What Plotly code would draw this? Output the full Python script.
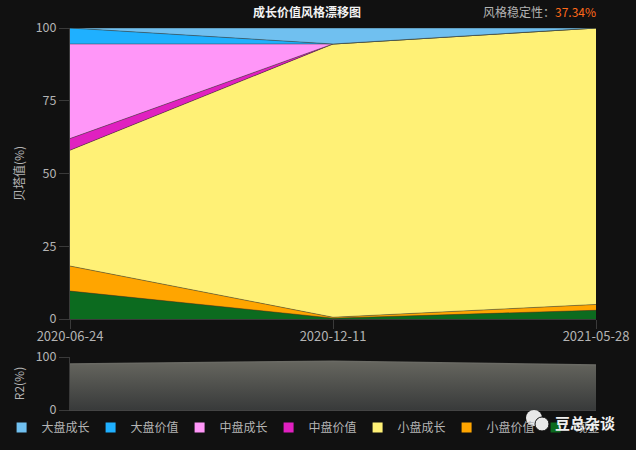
import plotly.graph_objects as go

dates = ["2020-06-24", "2020-12-11", "2021-05-28"]
large_growth = [0, 5.5, 0]
large_value = [5.5, 0, 0]
mid_growth = [32.5, 0, 0]
mid_value = [4, 0, 0]
small_growth = [39.8, 93.9, 95]
small_value = [8.6, 0.3, 2]
cash = [9.6, 0.3, 3]
r2 = [87, 92, 85]

series = [
    ("现金", cash, "#0c6b1f"),
    ("小盘价值", small_value, "#ffa500"),
    ("小盘成长", small_growth, "#fff176"),
    ("中盘价值", mid_value, "#e020c0"),
    ("中盘成长", mid_growth, "#ff96f8"),
    ("大盘价值", large_value, "#1fb0ff"),
    ("大盘成长", large_growth, "#70c0f0"),
]

FONT = "Noto Sans CJK SC, Noto Sans, sans-serif"
TEXT = "#b4b4b4"
BG = "#111111"
W, H = 636, 450

fig = go.Figure()
for name, vals, color in series:
    fig.add_trace(go.Scatter(
        x=dates, y=vals, name=name, stackgroup="one", mode="lines",
        line=dict(color="rgba(50,50,40,0.65)", width=0.7),
        fillcolor=color, showlegend=False, hoverinfo="x+y+name",
    ))
for name, vals, color in reversed(series):
    fig.add_trace(go.Scatter(
        x=dates[:1], y=[None], name=name, mode="markers",
        marker=dict(symbol="square", size=10, color=color), showlegend=True,
    ))
fig.add_trace(go.Scatter(
    x=dates, y=r2, xaxis="x2", yaxis="y2", mode="lines", name="R2",
    line=dict(color="#6a6a64", width=1.5), fill="tozeroy",
    fillgradient=dict(type="vertical",
                      colorscale=[[0, "#383a3a"], [1, "#66665f"]]),
    showlegend=False,
))

x_domain = [70 / W, 596 / W]
y_axis_common = dict(showline=True, linecolor="#3a3a3a", linewidth=1, ticks="outside",
                     ticklen=10, tickcolor="#3a3a3a", tickfont=dict(color=TEXT, size=12.5))
fig.update_layout(
    width=W, height=H, autosize=False,
    paper_bgcolor=BG, plot_bgcolor=BG,
    font=dict(family=FONT, color=TEXT, size=12),
    margin=dict(l=0, r=0, t=0, b=0, pad=0),
    xaxis=dict(domain=x_domain, anchor="y", type="category", range=[0, 2],
               showgrid=False, zeroline=False, automargin=False,
               showline=True, linecolor="#3a3a3a", linewidth=1, ticks="outside",
               ticklen=9, tickcolor="#3a3a3a", ticklabelstandoff=-4,
               tickfont=dict(color=TEXT, size=13)),
    yaxis=dict(domain=[(H - 319) / H, (H - 28) / H], anchor="x", range=[0, 100],
               tickvals=[0, 25, 50, 75, 100],
               showgrid=False, zeroline=False, automargin=False,
               title=dict(text="贝塔值(%)", font=dict(size=12, color=TEXT), standoff=8),
               **y_axis_common),
    xaxis2=dict(domain=x_domain, anchor="y2", type="category", range=[0, 2],
                showticklabels=False, ticks="", showgrid=False, zeroline=False,
                showline=True, linecolor="#444444", linewidth=1),
    yaxis2=dict(domain=[(H - 410) / H, (H - 357) / H], anchor="x2", range=[0, 100],
                tickvals=[0, 100],
                showgrid=True, gridcolor="#3c3c3c", griddash="dash", gridwidth=1, zeroline=False,
                automargin=False,
                title=dict(text="R2(%)", font=dict(size=12, color=TEXT), standoff=8),
                **y_axis_common),
    legend=dict(orientation="h", x=0.0025, xanchor="left", y=(H - 413) / H, yanchor="top",
                entrywidth=44, entrywidthmode="pixels", itemwidth=30, traceorder="normal",
                itemclick=False, font=dict(size=12, color=TEXT), bgcolor="rgba(0,0,0,0)"),
    annotations=[
        dict(text="<b>成长价值风格漂移图</b>", xref="paper", yref="paper", x=307 / W, y=(H - 11) / H,
             xanchor="center", yanchor="middle", showarrow=False,
             font=dict(size=12, color="#f2f2f2")),
        dict(text="风格稳定性：<span style='color:#ff6a1a'>37.34%</span>",
             xref="paper", yref="paper", x=598 / W, y=(H - 11) / H, xanchor="right", yanchor="middle",
             showarrow=False, font=dict(size=12, color=TEXT)),
        dict(text="<b>豆总杂谈</b>", xref="paper", yref="paper", x=617 / W, y=(H - 422) / H,
             xanchor="right", yanchor="middle", showarrow=False,
             font=dict(size=15, color="#f0f0f0")),
    ],
    shapes=[
        dict(type="circle", xref="paper", yref="paper", x0=526 / W, x1=542 / W,
             y0=(H - 426) / H, y1=(H - 410) / H, fillcolor="#e8e8e8", line=dict(width=0)),
        dict(type="circle", xref="paper", yref="paper", x0=535 / W, x1=549 / W,
             y0=(H - 431) / H, y1=(H - 417) / H, fillcolor="#e8e8e8", line=dict(color=BG, width=1)),
    ],
)
fig.write_html("out.html", config={"displayModeBar": False},
               post_script="document.body.style.margin='0';document.body.style.background='#111111';")
